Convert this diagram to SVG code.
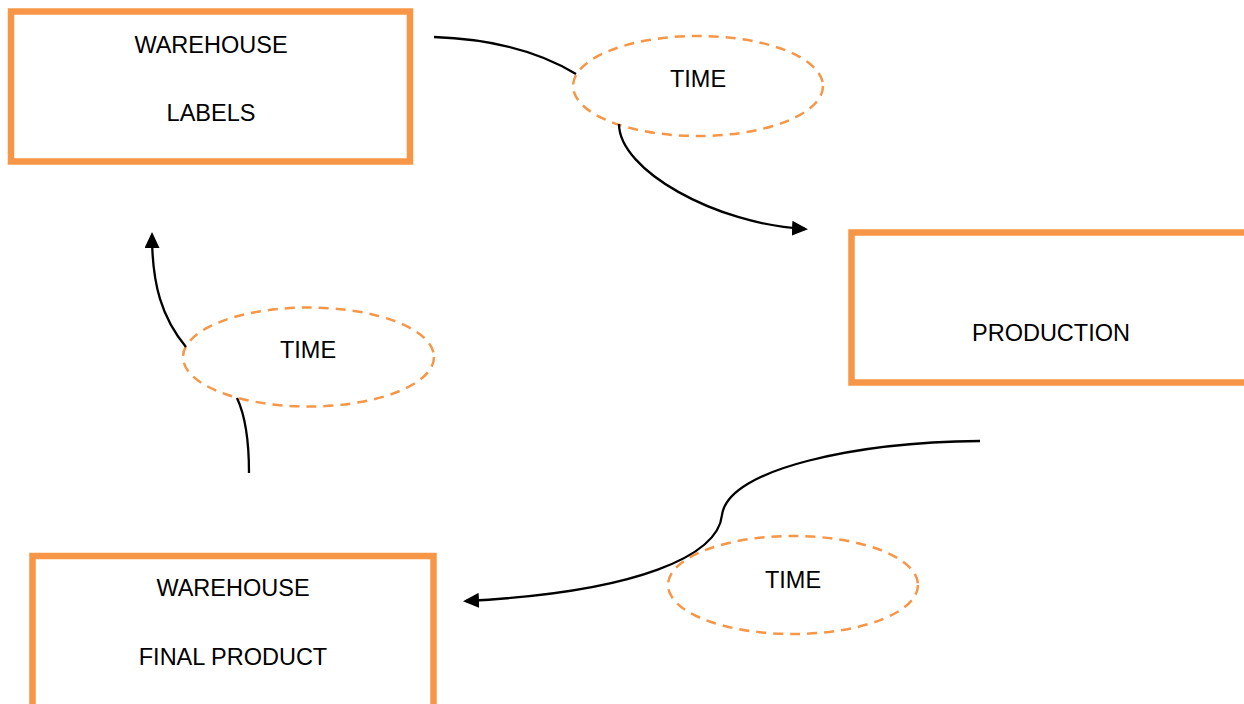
<svg xmlns="http://www.w3.org/2000/svg" width="1244" height="704" viewBox="0 0 1244 704">
  <style>
    .box { fill: #ffffff; stroke: #F79646; stroke-width: 6.5; }
    .oval { fill: #ffffff; stroke: #F79646; stroke-width: 2.5; stroke-dasharray: 10 7; }
    .lbl { font-family: "Liberation Sans", Arial, sans-serif; font-size: 23.5px; fill: #000000; text-anchor: middle; }
    .conn { fill: none; stroke: #000000; stroke-width: 2.3; }
  </style>
  <defs>
    <marker id="arrow" markerUnits="userSpaceOnUse" markerWidth="16" markerHeight="15" viewBox="0 0 16 15" refX="13" refY="7.5" orient="auto">
      <path d="M0,0 L16,7.5 L0,15 z" fill="#000000"/>
    </marker>
  </defs>

  <g id="node-warehouse-labels">
    <rect class="box" x="11" y="11.5" width="399" height="150"/>
    <text class="lbl" x="211" y="53">WAREHOUSE</text>
    <text class="lbl" x="211" y="121">LABELS</text>
  </g>

  <g id="node-production">
    <rect class="box" x="851.5" y="232.5" width="450" height="150"/>
    <text class="lbl" x="1051" y="341">PRODUCTION</text>
  </g>

  <g id="node-warehouse-final">
    <rect class="box" x="32.5" y="556" width="401" height="200"/>
    <text class="lbl" x="233" y="596">WAREHOUSE</text>
    <text class="lbl" x="233" y="665">FINAL PRODUCT</text>
  </g>

  <g id="node-time-1">
    <ellipse class="oval" cx="698" cy="86" rx="125" ry="50"/>
    <text class="lbl" x="698" y="87">TIME</text>
  </g>

  <g id="node-time-2">
    <ellipse class="oval" cx="308.5" cy="357" rx="125.5" ry="49.5"/>
    <text class="lbl" x="308" y="358">TIME</text>
  </g>

  <g id="node-time-3">
    <ellipse class="oval" cx="793" cy="585" rx="125" ry="49"/>
    <text class="lbl" x="793" y="588">TIME</text>
  </g>

  <g id="connectors">
    <path class="conn" d="M434,37 Q520,40 576,74"/>
    <path class="conn" d="M619,124 C619,170 715,224 805,229" marker-end="url(#arrow)"/>
    <path class="conn" d="M249,473 C249,440 245,415 237,398"/>
    <path class="conn" d="M186,347 C162,318 152,285 152,235" marker-end="url(#arrow)"/>
    <path class="conn" d="M980,441 C860,442 728,468 722,515 C718,555 640,592 466,601" marker-end="url(#arrow)"/>
  </g>
</svg>
